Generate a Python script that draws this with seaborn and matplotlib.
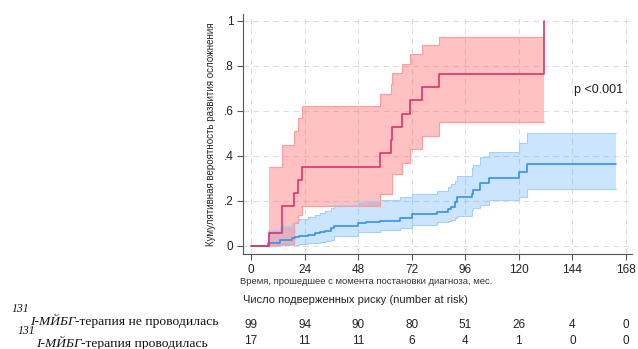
import matplotlib
matplotlib.use("Agg")
import matplotlib.pyplot as plt
import pandas as pd
import seaborn as sns

# cumulative incidence, 131I-MIBG therapy given (n=17)
t_mibg = [0, 8, 14, 19.4, 21.2, 22.8, 57.8, 62.7, 63.3, 67.5, 71.2, 76.5, 84, 131.4]
est_mibg = [0, 0.059, 0.176, 0.235, 0.294, 0.352, 0.412, 0.471, 0.529, 0.588, 0.647, 0.706, 0.765, 1.0]
lo_mibg = [0, 0.004, 0.01, 0.1, 0.138, 0.178, 0.23, 0.23, 0.32, 0.37, 0.43, 0.49, 0.55, 0.55]
hi_mibg = [0, 0.35, 0.45, 0.51, 0.567, 0.622, 0.676, 0.72, 0.77, 0.81, 0.852, 0.893, 0.927, 0.927]

# cumulative incidence, no 131I-MIBG therapy (n=99)
t_no = [0, 7.5, 13, 18.2, 19.7, 21.6, 25.7, 28.7, 30.9, 33.2, 35.8, 37, 48, 51.5, 57.8,
        66.8, 72, 83.2, 88.4, 89.5, 91.4, 92.2, 98.9, 99.6, 102.6, 106.8, 120.2, 123.5, 163.5]
est_no = [0, 0.012, 0.027, 0.034, 0.039, 0.044, 0.05, 0.056, 0.062, 0.068, 0.078, 0.09, 0.1, 0.107, 0.112,
          0.123, 0.14, 0.152, 0.163, 0.175, 0.197, 0.216, 0.23, 0.249, 0.281, 0.304, 0.33, 0.364, 0.364]
lo_no = [0, 0.0, 0.002, 0.004, 0.006, 0.008, 0.012, 0.015, 0.019, 0.022, 0.027, 0.045, 0.06, 0.064, 0.071,
         0.078, 0.093, 0.105, 0.11, 0.115, 0.123, 0.135, 0.16, 0.17, 0.182, 0.204, 0.216, 0.252, 0.252]
hi_no = [0, 0.07, 0.09, 0.1, 0.11, 0.118, 0.127, 0.138, 0.145, 0.157, 0.167, 0.18, 0.195, 0.2, 0.205,
         0.219, 0.232, 0.245, 0.26, 0.275, 0.29, 0.31, 0.345, 0.36, 0.397, 0.419, 0.459, 0.504, 0.504]

# number at risk table
risk_times = [0, 24, 48, 72, 96, 120, 144, 168]
risk_no = [99, 94, 90, 80, 51, 26, 4, 0]
risk_mibg = [17, 11, 11, 6, 4, 1, 0, 0]

x_ticks = [0, 24, 48, 72, 96, 120, 144, 168]
y_ticks = [0, 0.2, 0.4, 0.6, 0.8, 1.0]
y_ticklabels = ["0", ".2", ".4", ".6", ".8", "1"]

red = "#e0306e"
blue = "#3a8eea"

sns.set_theme(style="ticks")
plt.rcParams["font.family"] = ["Liberation Sans", "DejaVu Sans"]

W, H = 638, 349
fig = plt.figure(figsize=(W / 100, H / 100), dpi=100)
ax = fig.add_axes([243 / W, 1 - 254 / H, (632 - 243) / W, (254 - 14) / H])

df_no = pd.DataFrame({"t": t_no, "est": est_no, "lo": lo_no, "hi": hi_no})
df_mibg = pd.DataFrame({"t": t_mibg, "est": est_mibg, "lo": lo_mibg, "hi": hi_mibg})

# confidence bands (start at first event)
b = df_no.iloc[1:]
ax.fill_between(b["t"], b["lo"], b["hi"], step="post", color=(0.2, 0.6, 1.0), alpha=0.25, lw=0)
ax.step(b["t"], b["lo"], where="post", color="#a6d0fb", lw=0.8)
ax.step(b["t"], b["hi"], where="post", color="#a6d0fb", lw=0.8)
b = df_mibg.iloc[1:]
ax.fill_between(b["t"], b["lo"], b["hi"], step="post", color=(1.0, 0.4, 0.4), alpha=0.4, lw=0)
ax.step(b["t"], b["lo"], where="post", color="#ff9c9c", lw=0.8)
ax.step(b["t"], b["hi"], where="post", color="#ff9c9c", lw=0.8)

sns.lineplot(data=df_no, x="t", y="est", ax=ax, color=blue, lw=1.2, drawstyle="steps-post",
             estimator=None, sort=False)
sns.lineplot(data=df_mibg, x="t", y="est", ax=ax, color=red, lw=1.2, drawstyle="steps-post",
             estimator=None, sort=False)

ax.set_xlim(-3.6, 170.7)
ax.set_ylim(-0.036, 1.031)
ax.set_xticks(x_ticks)
ax.set_yticks(y_ticks)
ax.set_yticklabels(y_ticklabels)
ax.tick_params(labelsize=8.5, length=4, width=0.8, color="#555555", labelcolor="#222222", pad=3)
ax.grid(True, ls=(0, (5, 4)), color="#dddddd", lw=0.8)
for s in ["top", "right"]:
    ax.spines[s].set_visible(False)
for s in ["left", "bottom"]:
    ax.spines[s].set_color("#555555")
    ax.spines[s].set_linewidth(0.8)
ax.set_xlabel("")
ax.set_ylabel("Кумулятивная вероятность развития осложнения", fontsize=7, labelpad=5)

ax.text(144.5, 0.693, "p <0.001", fontsize=9, ha="left", va="center", color="#222222")

fig.text(366 / W, 1 - 281 / H, "Время, прошедшее с момента постановки диагноза, мес.",
         fontsize=6.8, ha="center", va="center", color="#333333")
fig.text(355 / W, 1 - 300 / H, "Число подверженных риску (number at risk)",
         fontsize=8, ha="center", va="center", color="#222222")

# number at risk rows placed under the ticks
for tt, n1, n2 in zip(risk_times, risk_no, risk_mibg):
    xf = ax.transData.transform((tt, 0))[0] / W
    fig.text(xf, 1 - 325 / H, str(n1), fontsize=8.5, ha="center", va="center", color="#222222")
    fig.text(xf, 1 - 341 / H, str(n2), fontsize=8.5, ha="center", va="center", color="#222222")

# group labels: italic superscript 131, then italic "I-МЙБГ", then regular rest
serif = ["Liberation Serif", "DejaVu Serif"]
fig.canvas.draw()
rend = fig.canvas.get_renderer()
for x_px, y_px, rest in [(12, 325, "-терапия не проводилась"), (18, 347, "-терапия проводилась")]:
    t0 = fig.text(x_px / W, 1 - (y_px - 13) / H, "131", fontsize=8.5, family=serif, style="italic",
                  ha="left", va="baseline", color="#111111")
    x1 = t0.get_window_extent(rend).x1
    t1 = fig.text(x1 / W, 1 - y_px / H, "I-МЙБГ", fontsize=9.7, family=serif, style="italic",
                  ha="left", va="baseline", color="#111111")
    x2 = t1.get_window_extent(rend).x1
    fig.text(x2 / W, 1 - y_px / H, rest, fontsize=9.7, family=serif, ha="left",
             va="baseline", color="#111111")

fig.savefig("out.png", dpi=100)
